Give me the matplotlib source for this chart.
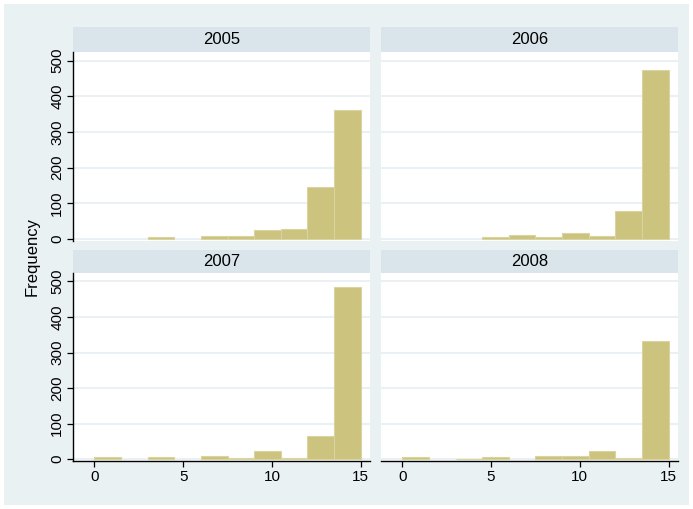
import numpy as np
import matplotlib
matplotlib.use('Agg')
import matplotlib.pyplot as plt
import matplotlib.patches as mpatches

plt.rcParams['font.family'] = ['Liberation Sans', 'DejaVu Sans']

# histogram data: 10 bins of width 1.5 from 0 to 15
bin_edges = np.arange(0, 15.01, 1.5)
years = ['2005', '2006', '2007', '2008']
freq_2005 = [0, 0, 4, 0, 8, 9, 24, 29, 145, 362]
freq_2006 = [0, 0, 0, 4, 12, 4, 17, 8, 77, 472]
freq_2007 = [5, 0, 5, 0, 8, 4, 22, 4, 66, 485]
freq_2008 = [5, 0, 1, 5, 0, 8, 8, 22, 4, 333]
freqs = [freq_2005, freq_2006, freq_2007, freq_2008]
x_ticks = [0, 5, 10, 15]
y_ticks = [0, 100, 200, 300, 400, 500]

W, H = 693, 509
bg_color = '#EAF1F3'
strip_color = '#D9E5EA'
bar_color = '#CBC37E'
bar_edge = '#DAD5A0'
grid_color = '#E6EEF1'

fig = plt.figure(figsize=(W / 100, H / 100), dpi=100)
fig.patch.set_facecolor('white')

# outer graph region
fig.patches.append(mpatches.Rectangle((4 / W, 1 - 505 / H), 685 / W, 501 / H,
                                      transform=fig.transFigure, facecolor=bg_color,
                                      edgecolor='none', zorder=-10))


def box(x0, y0, x1, y1):
    # pixel coords (top-left origin) -> figure fraction
    return [x0 / W, 1 - y1 / H, (x1 - x0) / W, (y1 - y0) / H]


cols = [(73, 370.5), (381, 678.3)]
rows = [(27.3, 52.3, 240.7), (249.5, 273.3, 461)]

for i, year in enumerate(years):
    r, c = divmod(i, 2)
    x0, x1 = cols[c]
    s0, p0, p1 = rows[r]

    # strip with year label
    sax = fig.add_axes(box(x0, s0, x1, p0))
    sax.set_facecolor(strip_color)
    sax.set_xticks([])
    sax.set_yticks([])
    for sp in sax.spines.values():
        sp.set_visible(False)
    sax.text(0.5, 0.5, year, ha='center', va='center', fontsize=12,
             transform=sax.transAxes)

    ax = fig.add_axes(box(x0, p0, x1, p1))
    ax.set_facecolor('white')
    f = np.array(freqs[i])
    keep = f > 0  # empty bins leave no mark
    ax.bar(bin_edges[:-1][keep], f[keep], width=1.5, align='edge', color=bar_color,
           edgecolor=bar_edge, linewidth=0.8, zorder=2)
    ax.set_xlim(-1.2, 15.55)
    ax.set_ylim(-5, 523)
    ax.set_yticks(y_ticks)
    ax.set_xticks(x_ticks)
    ax.yaxis.grid(True, color=grid_color, linewidth=1.2, zorder=0)
    ax.set_axisbelow(True)
    for sp in ['top', 'right']:
        ax.spines[sp].set_visible(False)
    ax.spines['left'].set_visible(c == 0)
    ax.spines['bottom'].set_visible(r == 1)
    ax.spines['left'].set_linewidth(1.0)
    ax.spines['bottom'].set_linewidth(1.0)
    ax.tick_params(axis='y', length=4.3, width=0.9, pad=2, labelsize=11,
                   labelrotation=90, left=(c == 0), labelleft=(c == 0))
    ax.tick_params(axis='x', length=4.3, width=0.9, pad=2, labelsize=11,
                   bottom=(r == 1), labelbottom=(r == 1))
    for lab in ax.get_yticklabels():
        lab.set_verticalalignment('center')

fig.text(32 / W, 1 - 257 / H, 'Frequency', rotation=90, ha='center', va='center',
         fontsize=12)

fig.savefig('out.png', dpi=100, facecolor=fig.get_facecolor())
